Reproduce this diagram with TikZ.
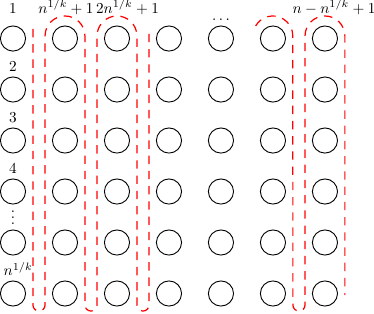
\documentclass[tikz,border=0pt]{standalone}
\usepackage{amsmath, amssymb}
\usepackage{tikz}
\usetikzlibrary{positioning}

\tikzset{
  vertex/.style={circle, draw, semithick, minimum size=0.58cm, inner sep=0pt},
  grp/.style={red, thick, dash pattern=on 5.5pt off 4.5pt},
  toplab/.style={anchor=base},
  rowlab/.style={inner sep=3pt}
}

\begin{document}
\begin{tikzpicture}
  \def\dx{1.2} \def\dy{1.177}
  \useasboundingbox (-0.30,-6.358) rectangle (8.332,0.889);
  % grid of vertices
  \foreach \i in {1,...,6}
    \foreach \j in {1,...,7}
      \node[vertex] (c-\i-\j) at ({(\j-1)*\dx},{-(\i-1)*\dy}) {};
  % column labels
  \node[toplab] (t-1) at (0,0.589) {$1$};
  \node[toplab] (t-2) at (1.223,0.589) {$n^{1/k}+1$};
  \node[toplab] (t-3) at (2.643,0.589) {$2n^{1/k}+1$};
  \node[rowlab, above=0pt of c-1-5] (t-5) {$\ldots$};
  \node[toplab] (t-7) at (7.409,0.589) {$n-n^{1/k}+1$};
  % row labels
  \node[rowlab, above=0pt of c-2-1] (r-2) {$2$};
  \node[rowlab, above=0pt of c-3-1] (r-3) {$3$};
  \node[rowlab, above=0pt of c-4-1] (r-4) {$4$};
  \node[rowlab, above=0pt of c-5-1] (r-5) {$\vdots$};
  \node[rowlab, above=0pt of c-6-1, xshift=0.12cm] (r-6) {$n^{1/k}$};
  % dashed groups
  \draw[grp] (0.46,0.22) -- (0.46,-6.15)
    arc[start angle=180, end angle=360, radius=0.14] -- (0.74,0.06)
    arc[start angle=180, end angle=0, radius=0.46] -- (1.66,-6.15)
    arc[start angle=180, end angle=360, radius=0.14] -- (1.94,0.06)
    arc[start angle=180, end angle=0, radius=0.46] -- (2.86,-6.15)
    arc[start angle=180, end angle=360, radius=0.14] -- (3.14,0.2);
  \draw[grp] (5.60,0.29)
    arc[start angle=150, end angle=0, radius=0.46] -- (6.46,-6.15)
    arc[start angle=180, end angle=360, radius=0.14] -- (6.74,0.06)
    arc[start angle=180, end angle=0, radius=0.46] -- (7.66,-5.92);
\end{tikzpicture}
\end{document}
